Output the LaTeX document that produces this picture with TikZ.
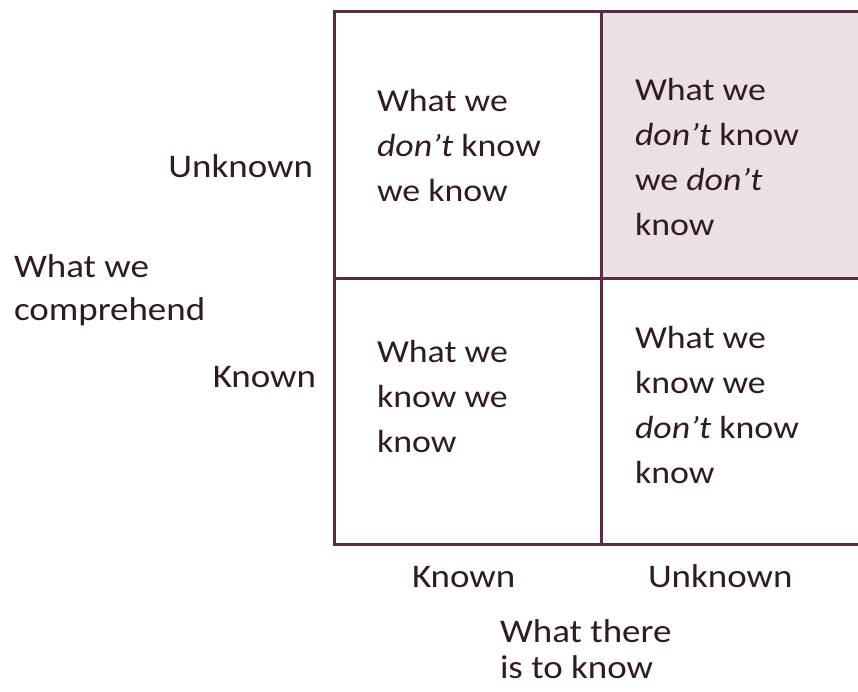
\documentclass[tikz,border=0pt]{standalone}
\usepackage{fontspec}
\setmainfont{Carlito}[FakeStretch=1.12]
\definecolor{gridline}{HTML}{5A2C45}
\definecolor{inktext}{HTML}{2E1B25}
\definecolor{cellfill}{HTML}{EDE0E5}
\begin{document}
\begin{tikzpicture}[x=1pt,y=-1pt,
  every node/.style={inner sep=0pt,outer sep=0pt,text=inktext,
    font=\fontsize{32}{45}\selectfont},
  celltext/.style={anchor=base west,align=left},
  axislabel/.style={anchor=base east,align=right,font=\fontsize{33}{45}\selectfont},
  gridstroke/.style={draw=gridline,line width=3pt}]
  \useasboundingbox (0,0) rectangle (858,691);
  \clip (0,0) rectangle (858,691);
  % shaded quadrant: unknown unknowns
  \fill[cellfill] (601,11) rectangle (880,278);
  % the 2x2 matrix
  \draw[gridstroke] (880,11) -- (334,11) -- (334,544) -- (880,544);
  \draw[gridstroke] (601,11) -- (601,544);
  \draw[gridstroke] (334,278) -- (880,278);
  % cell contents (anchored at the baseline of the last line)
  \node[celltext] (tl) at (377,201) {What we\\\textit{don’t} know\\we know};
  \node[celltext] (tr) at (635,235) {What we\\\textit{don’t} know\\we \textit{don’t}\\know};
  \node[celltext] (bl) at (377,452) {What we\\know we\\know};
  \node[celltext] (br) at (635,483) {What we\\know we\\\textit{don’t} know\\know};
  % vertical axis
  \node[axislabel] (rowU) at (313,177) {Unknown};
  \node[axislabel] (rowK) at (316,387) {Known};
  \node[anchor=base west,align=left,font=\fontsize{33}{43}\selectfont] (yaxis) at (14,320) {What we\\comprehend};
  % horizontal axis
  \node[anchor=base west,font=\fontsize{33}{45}\selectfont] (colK) at (412,587) {Known};
  \node[anchor=base west,font=\fontsize{33}{45}\selectfont] (colU) at (648,587) {Unknown};
  \node[anchor=base west,align=left,font=\fontsize{33}{36}\selectfont] (xaxis) at (500,678) {What there\\is to know};
\end{tikzpicture}
\end{document}
